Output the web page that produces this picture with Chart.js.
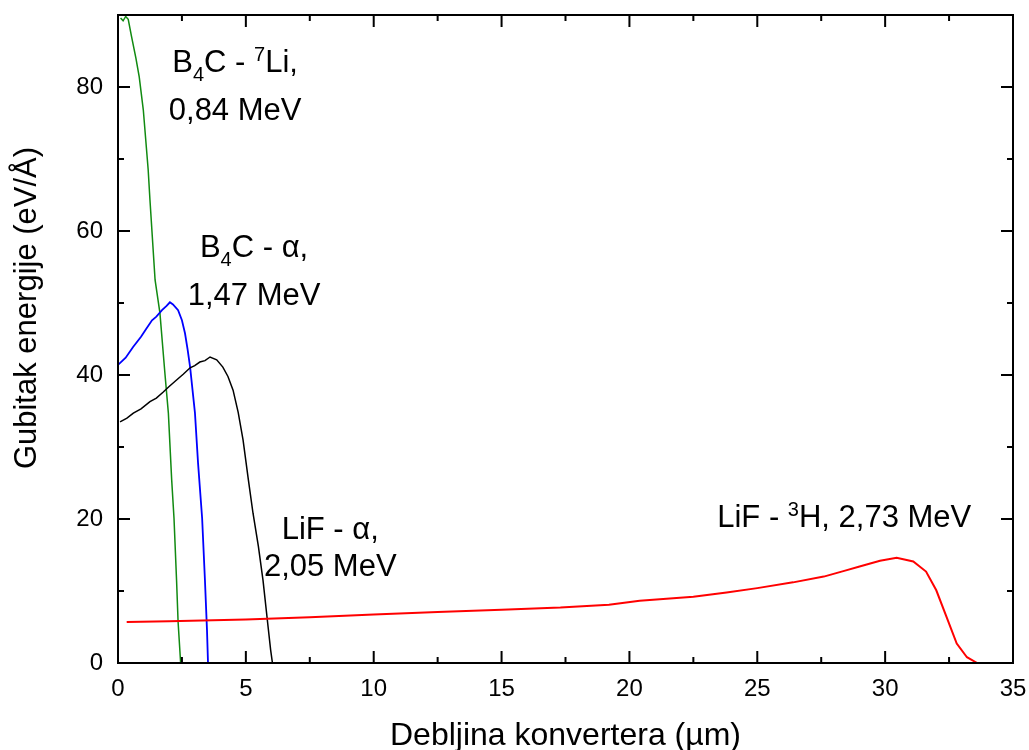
<!DOCTYPE html>
<html>
<head>
<meta charset="utf-8">
<script src="https://cdn.jsdelivr.net/npm/chart.js@4.4.0/dist/chart.umd.min.js"></script>
<style>
body { margin: 0; background: #fff; }
</style>
</head>
<body>
<canvas id="stopping-chart" width="1029" height="750"></canvas>
<script>
// axis ticks
var xTicks = [0, 5, 10, 15, 20, 25, 30, 35];
var yTicks = [0, 20, 40, 60, 80];

// LiF - 3H, 2.73 MeV (red)
var lifTritonX = [0.34, 2, 5, 7.5, 10, 12.5, 15, 17.3, 19.2, 20.4, 22.5, 23.8, 25, 26.4, 27.6, 28.4, 29, 29.8, 30.45, 31.1, 31.6, 32.0, 32.4, 32.8, 33.2, 33.6];
var lifTritonY = [5.7, 5.8, 6.05, 6.35, 6.75, 7.1, 7.4, 7.7, 8.1, 8.65, 9.2, 9.8, 10.4, 11.2, 12.0, 12.8, 13.4, 14.2, 14.6, 14.1, 12.7, 10.1, 6.4, 2.7, 0.8, 0];

// LiF - alpha, 2.05 MeV (black)
var lifAlphaX = [0.08, 0.35, 0.6, 0.9, 1.25, 1.5, 1.76, 2.0, 2.29, 2.55, 2.82, 3.0, 3.2, 3.4, 3.6, 3.86, 4.1, 4.3, 4.5, 4.7, 4.89, 5.1, 5.28, 5.49, 5.67, 5.87, 5.97, 6.04];
var lifAlphaY = [33.5, 34.0, 34.7, 35.3, 36.3, 36.8, 37.6, 38.4, 39.3, 40.1, 41.0, 41.3, 41.8, 42.0, 42.5, 42.1, 41.1, 39.8, 37.9, 34.8, 31.0, 25.4, 20.8, 16.2, 11.5, 5.0, 1.8, 0];

// B4C - alpha, 1.47 MeV (blue)
var b4cAlphaX = [0, 0.3, 0.59, 0.9, 1.1, 1.33, 1.5, 1.72, 1.9, 2.03, 2.15, 2.35, 2.5, 2.62, 2.72, 2.82, 3.01, 3.13, 3.29, 3.4, 3.48, 3.52];
var b4cAlphaY = [41.4, 42.4, 43.9, 45.3, 46.4, 47.6, 48.1, 49.0, 49.6, 50.1, 49.8, 49.0, 47.6, 45.8, 43.6, 41.1, 34.7, 27.8, 20.1, 11.5, 4.6, 0];

// B4C - 7Li, 0.84 MeV (green)
var b4cLiX = [0.1, 0.2, 0.3, 0.4, 0.53, 0.7, 0.83, 0.99, 1.18, 1.25, 1.45, 1.64, 1.84, 1.97, 2.1, 2.19, 2.29, 2.35, 2.45];
var b4cLiY = [89.6, 89.2, 89.8, 89.4, 87.0, 84.0, 81.4, 76.8, 68.5, 64.3, 53.2, 48.6, 40.0, 34.7, 25.4, 20.1, 11.5, 5.7, 0];

function toPoints(xs, ys) {
	var pts = [];
	for (var i = 0; i < xs.length; i++) {
		pts.push({x: xs[i], y: ys[i]});
	}
	return pts;
}

var fontFamily = "'Liberation Sans', Arial, sans-serif";

// curve labels; runs: [text, kind] where kind is '', 'sub' or 'sup'
var notes = [
	{x: 4.58, y: 82.1, runs: [['B', ''], ['4', 'sub'], ['C - ', ''], ['7', 'sup'], ['Li,', '']]},
	{x: 4.58, y: 75.4, runs: [['0,84 MeV', '']]},
	{x: 5.32, y: 56.4, runs: [['B', ''], ['4', 'sub'], ['C - \u03b1,', '']]},
	{x: 5.32, y: 49.7, runs: [['1,47 MeV', '']]},
	{x: 8.3, y: 17.2, runs: [['LiF - \u03b1,', '']]},
	{x: 8.3, y: 12.1, runs: [['2,05 MeV', '']]},
	{x: 28.4, y: 18.9, runs: [['LiF - ', ''], ['3', 'sup'], ['H, 2,73 MeV', '']]}
];

function drawRuns(ctx, runs, cx, baseline) {
	var total = 0, i;
	var widths = [];
	for (i = 0; i < runs.length; i++) {
		ctx.font = (runs[i][1] ? '20px ' : '31px ') + fontFamily;
		widths.push(ctx.measureText(runs[i][0]).width);
		total += widths[i];
	}
	var x = cx - total / 2;
	for (i = 0; i < runs.length; i++) {
		var kind = runs[i][1];
		ctx.font = (kind ? '20px ' : '31px ') + fontFamily;
		var dy = kind === 'sub' ? 9 : (kind === 'sup' ? -11 : 0);
		ctx.fillText(runs[i][0], x, baseline + dy);
		x += widths[i];
	}
}

var frameAndLabels = {
	id: 'frameAndLabels',
	afterDraw: function(chart) {
		var ctx = chart.ctx, a = chart.chartArea;
		var xs = chart.scales.x, ys = chart.scales.y;
		var i, p;
		ctx.save();
		ctx.strokeStyle = '#000';
		ctx.lineWidth = 2;
		ctx.strokeRect(a.left, a.top, a.right - a.left, a.bottom - a.top);

		// inward ticks on all four sides
		ctx.beginPath();
		for (i = 0; i < xTicks.length; i++) {
			p = xs.getPixelForValue(xTicks[i]);
			ctx.moveTo(p, a.bottom); ctx.lineTo(p, a.bottom - 12);
			ctx.moveTo(p, a.top); ctx.lineTo(p, a.top + 12);
			if (i < xTicks.length - 1) {
				p = xs.getPixelForValue((xTicks[i] + xTicks[i + 1]) / 2);
				ctx.moveTo(p, a.bottom); ctx.lineTo(p, a.bottom - 6);
				ctx.moveTo(p, a.top); ctx.lineTo(p, a.top + 6);
			}
		}
		for (i = 0; i < yTicks.length; i++) {
			p = ys.getPixelForValue(yTicks[i]);
			ctx.moveTo(a.left, p); ctx.lineTo(a.left + 12, p);
			ctx.moveTo(a.right, p); ctx.lineTo(a.right - 12, p);
			p = ys.getPixelForValue(yTicks[i] + 10);
			ctx.moveTo(a.left, p); ctx.lineTo(a.left + 6, p);
			ctx.moveTo(a.right, p); ctx.lineTo(a.right - 6, p);
		}
		ctx.stroke();

		ctx.fillStyle = '#000';
		ctx.textBaseline = 'alphabetic';
		ctx.textAlign = 'left';
		for (i = 0; i < notes.length; i++) {
			drawRuns(ctx, notes[i].runs, xs.getPixelForValue(notes[i].x), ys.getPixelForValue(notes[i].y));
		}

		// axis titles
		ctx.textAlign = 'center';
		ctx.font = '32px ' + fontFamily;
		ctx.fillText('Debljina konvertera (\u00b5m)', (a.left + a.right) / 2, 745);
		ctx.font = '31px ' + fontFamily;
		ctx.translate(27, 308);
		ctx.rotate(-Math.PI / 2);
		ctx.textBaseline = 'middle';
		ctx.fillText('Gubitak energije (eV/\u00c5)', 0, 0);
		ctx.restore();
	}
};

var ctx = document.getElementById('stopping-chart').getContext('2d');
var chart = new Chart(ctx, {
	type: 'scatter',
	data: {
		datasets: [{
			label: 'LiF - 3H, 2,73 MeV',
			data: toPoints(lifTritonX, lifTritonY),
			borderColor: '#ff0000',
			borderWidth: 2
		}, {
			label: 'LiF - alpha, 2,05 MeV',
			data: toPoints(lifAlphaX, lifAlphaY),
			borderColor: '#000000',
			borderWidth: 1.5
		}, {
			label: 'B4C - alpha, 1,47 MeV',
			data: toPoints(b4cAlphaX, b4cAlphaY),
			borderColor: '#0000ff',
			borderWidth: 1.8
		}, {
			label: 'B4C - 7Li, 0,84 MeV',
			data: toPoints(b4cLiX, b4cLiY),
			borderColor: '#118a11',
			borderWidth: 1.5
		}]
	},
	options: {
		responsive: false,
		animation: false,
		showLine: true,
		elements: {
			point: { radius: 0, hoverRadius: 0 },
			line: { tension: 0, fill: false }
		},
		layout: { padding: { top: 15, right: 16, left: 0, bottom: 0 } },
		plugins: {
			legend: { display: false },
			tooltip: { enabled: false }
		},
		scales: {
			x: {
				type: 'linear',
				min: 0,
				max: 35,
				grid: { display: false, drawTicks: false },
				border: { display: false },
				ticks: {
					color: '#000',
					padding: 12,
					font: { family: fontFamily, size: 24 }
				},
				afterBuildTicks: function(scale) {
					scale.ticks = xTicks.map(function(v) { return {value: v}; });
				},
				afterFit: function(scale) {
					scale.height = 87;
					scale.paddingLeft = 0;
					scale.paddingRight = 0;
				}
			},
			y: {
				type: 'linear',
				min: 0,
				max: 90,
				grid: { display: false, drawTicks: false },
				border: { display: false },
				ticks: {
					color: '#000',
					padding: 15,
					font: { family: fontFamily, size: 24 }
				},
				afterBuildTicks: function(scale) {
					scale.ticks = yTicks.map(function(v) { return {value: v}; });
				},
				afterFit: function(scale) {
					scale.width = 118;
					scale.paddingTop = 0;
					scale.paddingBottom = 0;
				}
			}
		}
	},
	plugins: [frameAndLabels]
});
</script>
</body>
</html>
